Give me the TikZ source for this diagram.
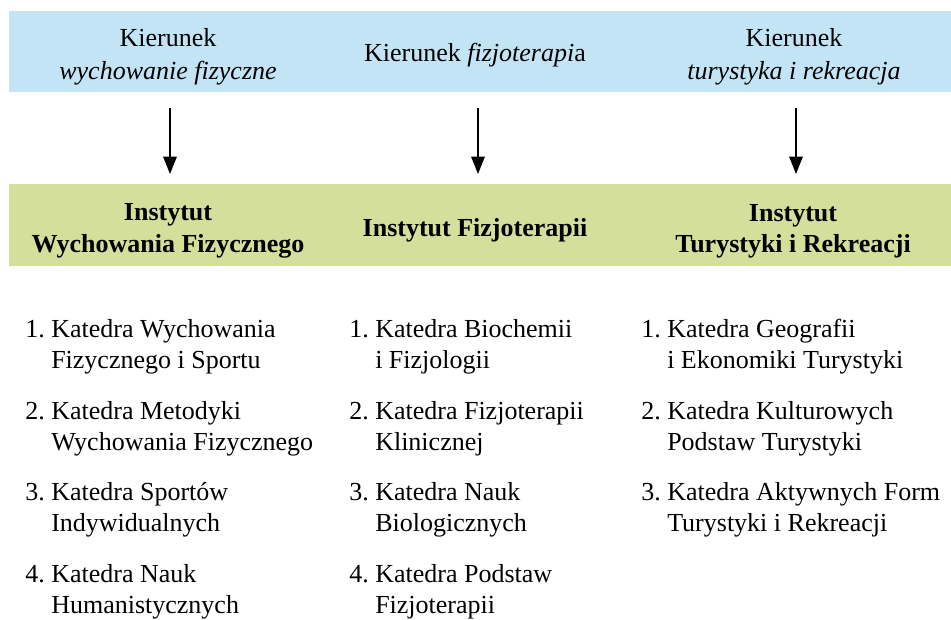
\documentclass[tikz,border=0pt]{standalone}
\usepackage{fontspec}
\setmainfont{Liberation Serif}
\usetikzlibrary{arrows.meta}

\definecolor{kierBlue}{HTML}{C3E4F5}
\definecolor{instGreen}{HTML}{D4DF9C}

\newcommand{\katLine}[3]{#1.~#2\\\phantom{#1.~}#3}

\tikzset{
    kier/.style={align=center, font=\fontsize{19.5}{25}\selectfont},
    inst/.style={align=center, font=\fontsize{19.5}{23.5}\selectfont\bfseries},
    kat/.style={align=left, anchor=base west, inner sep=0pt, font=\fontsize{19.5}{23.7}\selectfont},
    strz/.style={-{Triangle[length=13pt,width=10pt]}, line width=1.5pt}
}

\begin{document}
\begin{tikzpicture}[x=0.75pt,y=-0.75pt]
    \useasboundingbox (0,0) rectangle (951,620);

    % Draw the bands
    \fill[kierBlue] (9,11) rectangle (951,92);
    \fill[instGreen] (9,184) rectangle (951,266);

    % Kierunki
    \node[kier] (kier1) at (168,57) {Kierunek\\\textit{wychowanie fizyczne}};
    \node[kier] (kier2) at (475,55) {Kierunek \textit{fizjoterapi}a};
    \node[kier] (kier3) at (794,57) {Kierunek\\\textit{turystyka i rekreacja}};

    % Instytuty
    \node[inst] (inst1) at (168,231) {Instytut\\Wychowania Fizycznego};
    \node[inst] (inst2) at (475,230) {Instytut Fizjoterapii};
    \node[inst] (inst3) at (793,231) {Instytut\\Turystyki i Rekreacji};

    % Define the arrow ends
    \coordinate (a1s) at (170,108);
    \coordinate (a1e) at (170,174);
    \coordinate (a2s) at (478,108);
    \coordinate (a2e) at (478,174);
    \coordinate (a3s) at (796,108);
    \coordinate (a3e) at (796,174);

    % Draw the arrows
    \draw[strz] (a1s) -- (a1e);
    \draw[strz] (a2s) -- (a2e);
    \draw[strz] (a3s) -- (a3e);

    % Katedry (base = last line)
    \node[kat] (k11) at (25,369) {\katLine{1}{Katedra Wychowania}{Fizycznego i Sportu}};
    \node[kat] (k12) at (25,451) {\katLine{2}{Katedra Metodyki}{Wychowania Fizycznego}};
    \node[kat] (k13) at (25,532) {\katLine{3}{Katedra Sportów}{Indywidualnych}};
    \node[kat] (k14) at (25,614) {\katLine{4}{Katedra Nauk}{Humanistycznych}};

    \node[kat] (k21) at (349,369) {\katLine{1}{Katedra Biochemii}{i Fizjologii}};
    \node[kat] (k22) at (349,451) {\katLine{2}{Katedra Fizjoterapii}{Klinicznej}};
    \node[kat] (k23) at (349,532) {\katLine{3}{Katedra Nauk}{Biologicznych}};
    \node[kat] (k24) at (349,614) {\katLine{4}{Katedra Podstaw}{Fizjoterapii}};

    \node[kat] (k31) at (641,369) {\katLine{1}{Katedra Geografii}{i Ekonomiki Turystyki}};
    \node[kat] (k32) at (641,451) {\katLine{2}{Katedra Kulturowych}{Podstaw Turystyki}};
    \node[kat] (k33) at (641,532) {\katLine{3}{Katedra Aktywnych Form}{Turystyki i Rekreacji}};
\end{tikzpicture}
\end{document}
